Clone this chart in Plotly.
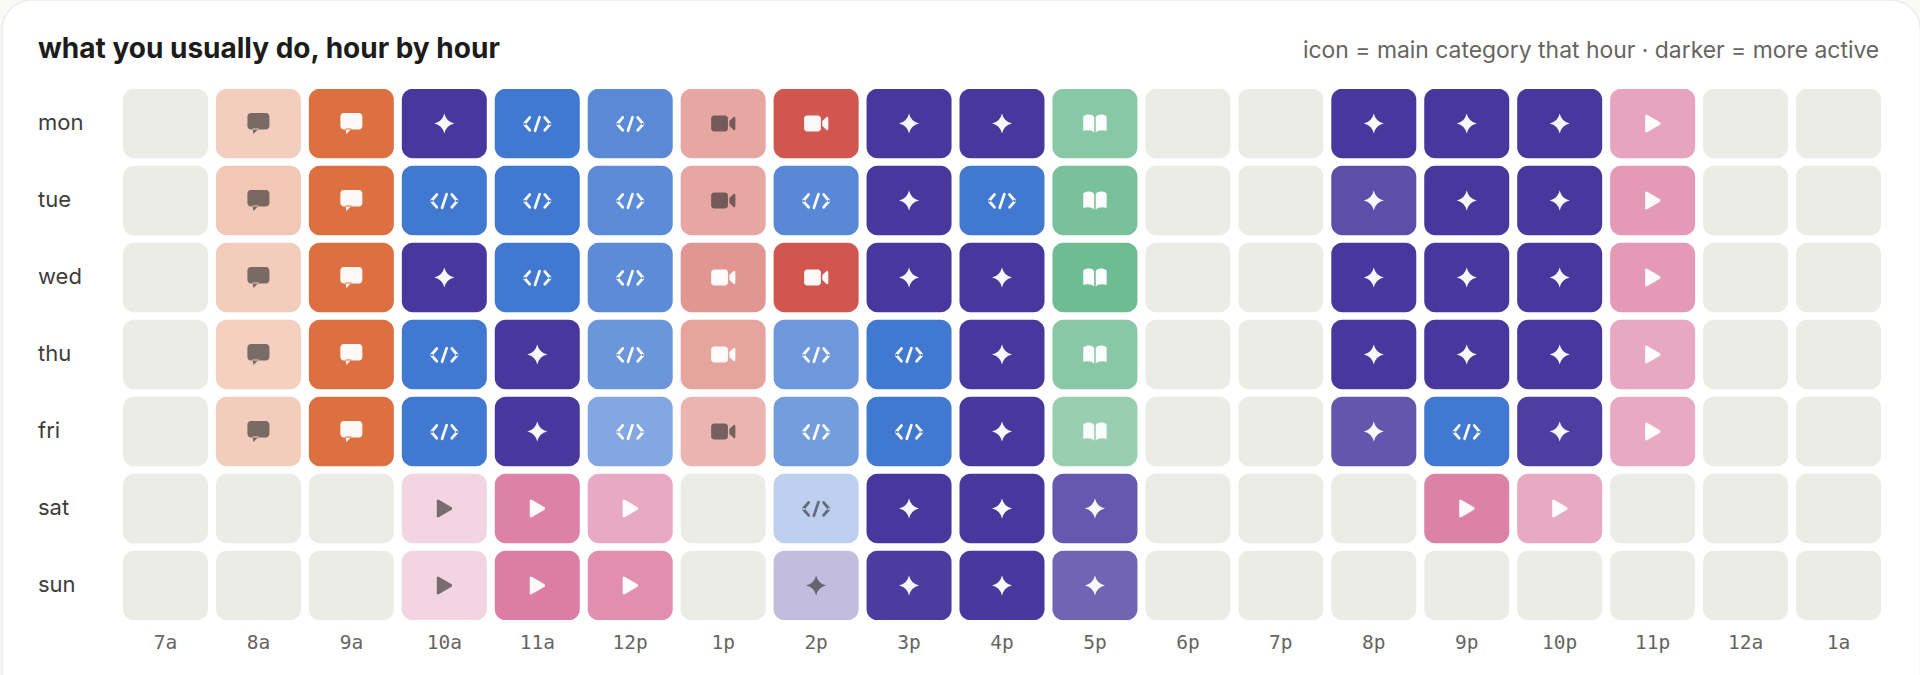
import re
import plotly.graph_objects as go

DAYS = ["mon", "tue", "wed", "thu", "fri", "sat", "sun"]
HOURS = ["7a", "8a", "9a", "10a", "11a", "12p", "1p", "2p", "3p", "4p", "5p", "6p", "7p", "8p", "9p", "10p", "11p", "12a", "1a"]

# main category per cell: c=chat s=sparkle k=code v=video b=book p=play, "." = nothing
CATEGORY = [
    ".ccskkvvssb..sssp..",
    ".cckkkvkskb..sssp..",
    ".ccskkvvssb..sssp..",
    ".ccksk" + "vkksb..sssp..",
    ".ccksk" + "vkksb..sksp..",
    "...ppp.ksss...pp...",
    "...ppp.ssss........",
]

ACTIVITY = [
    [0, .34, 1, 1, 1, .87, .52, 1, 1, 1, .82, 0, 0, 1, 1, 1, .70, 0, 0],
    [0, .39, 1, 1, 1, .86, .53, .88, 1, 1, .93, 0, 0, .89, 1, 1, .78, 0, 0],
    [0, .35, 1, 1, 1, .85, .62, 1, 1, 1, 1, 0, 0, 1, 1, 1, .78, 0, 0],
    [0, .33, 1, 1, 1, .78, .54, .76, 1, 1, .82, 0, 0, 1, 1, 1, .67, 0, 0],
    [0, .35, 1, 1, 1, .65, .44, .73, 1, 1, .72, 0, 0, .85, 1, .97, .65, 0, 0],
    [0, 0, 0, .33, .97, .66, 0, .35, 1, 1, .84, 0, 0, 0, .96, .65, 0, 0, 0],
    [0, 0, 0, .33, 1, .87, 0, .335, .98, 1, .78, 0, 0, 0, 0, 0, 0, 0, 0],
]

BASE = {"c": (220, 112, 64), "s": (72, 56, 158), "k": (65, 120, 208),
        "v": (208, 86, 78), "b": (111, 188, 146), "p": (220, 125, 163)}
NAMES = {"c": "chat", "s": "ai", "k": "code", "v": "video", "b": "reading", "p": "play", ".": "none"}
EMPTY = "#ecece6"
TITLE = "what you usually do, hour by hour"
NOTE = "icon = main category that hour · darker = more active"


def fy(y):
    return -y


def rrect(x0, y0, x1, y1, r):
    k = 0.45 * r
    return (f"M{x0+r},{fy(y0)} L{x1-r},{fy(y0)} C{x1-k},{fy(y0)} {x1},{fy(y0+k)} {x1},{fy(y0+r)} "
            f"L{x1},{fy(y1-r)} C{x1},{fy(y1-k)} {x1-k},{fy(y1)} {x1-r},{fy(y1)} "
            f"L{x0+r},{fy(y1)} C{x0+k},{fy(y1)} {x0},{fy(y1-k)} {x0},{fy(y1-r)} "
            f"L{x0},{fy(y0+r)} C{x0},{fy(y0+k)} {x0+k},{fy(y0)} {x0+r},{fy(y0)} Z")


def poly(pts):
    return "M" + " L".join(f"{x},{fy(y)}" for x, y in pts) + " Z"


def capsule(a, b, w):
    dx, dy = b[0] - a[0], b[1] - a[1]
    n = (dx * dx + dy * dy) ** .5
    ux, uy = dx / n, dy / n
    nx, ny = -uy * w / 2, ux * w / 2
    ex, ey = ux * w * .7, uy * w * .7
    return (f"M{a[0]+nx},{fy(a[1]+ny)} L{b[0]+nx},{fy(b[1]+ny)} Q{b[0]+ex},{fy(b[1]+ey)} {b[0]-nx},{fy(b[1]-ny)} "
            f"L{a[0]-nx},{fy(a[1]-ny)} Q{a[0]-ex},{fy(a[1]-ey)} {a[0]+nx},{fy(a[1]+ny)} Z")


def chevron(sign):
    tip = -13 * sign
    arm = -7.2 * sign
    return capsule((arm, -6.4), (tip, 0.5), 2.8) + " " + capsule((tip, 0.5), (arm, 7.2), 2.8)


def flip_raw(path):
    out = []
    for tok in path.split():
        m = re.match(r"^([A-Z]?)(-?[\d.]+),(-?[\d.]+)$", tok)
        out.append(f"{m.group(1)}{m.group(2)},{-float(m.group(3))}" if m else tok)
    return " ".join(out)


ICON = {
    "s": "M0,10 Q1.9,1.9 10,0 Q1.9,-1.9 0,-10 Q-1.9,-1.9 -10,0 Q-1.9,1.9 0,10 Z",
    "p": poly([(-7.5, -8.7), (-5.5, -8.7), (7.7, -1), (7.7, 1), (-5.5, 8.7), (-7.5, 8.7)]),
    "c": rrect(-11, -10.5, 11, 6, 3.5) + " " + poly([(-6, 5), (0.5, 5), (-5, 10.5)]),
    "v": rrect(-12, -8, 4.8, 8, 3) + " "
         + flip_raw("M6.2,-2.4 L10.5,-6.4 Q12.2,-7.4 12.2,-5 L12.2,5 Q12.2,7.4 10.5,6.4 L6.2,2.4 Z"),
    "b": flip_raw("M-11.7,7.6 L-11.7,-7.2 C-8,-9.8 -3,-9.6 -0.8,-6.6 L-0.8,9.2 C-3,6.6 -8,6.2 -11.7,7.6 Z "
                  "M11.7,7.6 L11.7,-7.2 C8,-9.8 3,-9.6 0.8,-6.6 L0.8,9.2 C3,6.6 8,6.2 11.7,7.6 Z"),
    "k": chevron(1) + " " + chevron(-1) + " " + capsule((2.5, -6.9), (-2.4, 7.8), 2.7),
}

shapes = []
CELL_W, CELL_H = 85, 69.5

# card
shapes.append(dict(type="path", xref="paper", yref="paper", xsizemode="pixel", ysizemode="pixel",
                   xanchor=0, yanchor=1, layer="below", fillcolor="#ffffff",
                   line=dict(color="#ecebe6", width=1.5),
                   path=rrect(-121, -89, 1797.5, 640, 30)))

xs, ys, hover = [], [], []
for r, day in enumerate(DAYS):
    for c, hour in enumerate(HOURS):
        cat = CATEGORY[r][c]
        a = ACTIVITY[r][c]
        xs.append(c)
        ys.append(r)
        hover.append(f"{day} {hour}: {NAMES[cat]}")
        fill = EMPTY if cat == "." else "rgba({},{},{},{})".format(*BASE[cat], a)
        shapes.append(dict(type="path", xref="x", yref="y", xsizemode="pixel", ysizemode="pixel",
                           xanchor=c, yanchor=r, layer="below", fillcolor=fill, line=dict(width=0),
                           path=rrect(-CELL_W / 2, -CELL_H / 2, CELL_W / 2, CELL_H / 2, 11)))
        if cat != ".":
            icol = "rgba(255,255,255,0.96)" if a > .535 else "rgba(40,40,40,0.6)"
            shapes.append(dict(type="path", xref="x", yref="y", xsizemode="pixel", ysizemode="pixel",
                               xanchor=c, yanchor=r, layer="above", fillcolor=icol, line=dict(width=0),
                               path=ICON[cat]))

fig = go.Figure(go.Scatter(x=xs, y=ys, mode="markers", hovertext=hover, hoverinfo="text",
                           marker=dict(size=40, opacity=0), showlegend=False))

L, T, W, H = 122.5, 89, 1758.5, 531
annotations = [
    dict(xref="paper", yref="paper", xanchor="left", yanchor="middle", x=(35 - L) / W, y=1 + (T - 48) / H,
         text=f"<b>{TITLE}</b>", showarrow=False, font=dict(family="Inter", size=28, color="#1c1c1a")),
    dict(xref="paper", yref="paper", xanchor="right", yanchor="middle", x=(1881 - L) / W, y=1 + (T - 50) / H,
         text=NOTE, showarrow=False, font=dict(family="Inter", size=22.9, color="#66655f")),
]
for r, day in enumerate(DAYS):
    annotations.append(dict(xref="paper", yref="y", xanchor="left", yanchor="middle", x=(35 - L) / W, y=r - 0.015,
                            text=day, showarrow=False, font=dict(family="Inter", size=22, color="#3d3d3a")))

fig.update_layout(
    width=1920, height=675, autosize=False,
    margin=dict(l=L, r=1920 - L - W, t=T, b=675 - T - H, pad=0),
    paper_bgcolor="#f9f9f7", plot_bgcolor="rgba(0,0,0,0)",
    shapes=shapes, annotations=annotations,
    xaxis=dict(range=[-0.457, 18.457], tickmode="array", tickvals=list(range(19)), ticktext=HOURS,
               showgrid=False, zeroline=False, showline=False, ticks="outside", ticklen=5,
               tickcolor="rgba(0,0,0,0)", tickangle=0,
               tickfont=dict(family="DejaVu Sans Mono", size=19.5, color="#66655f"), fixedrange=True),
    yaxis=dict(range=[6.448, -0.448], showticklabels=False, ticks="", showgrid=False, zeroline=False,
               showline=False, fixedrange=True),
)
fig.write_html("out.html", config=dict(displayModeBar=False),
               post_script="document.body.style.margin='0';")
